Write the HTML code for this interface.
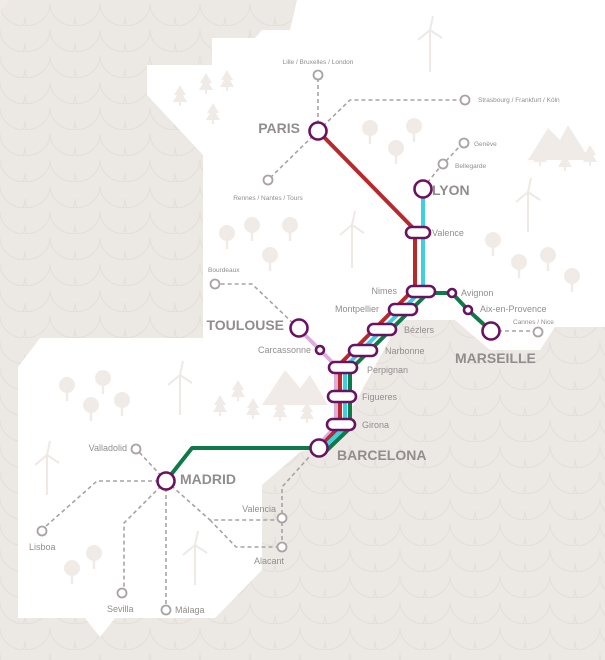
<!DOCTYPE html>
<html><head><meta charset="utf-8"><style>
html,body{margin:0;padding:0;background:#ece8e4;}
svg{display:block;font-family:"Liberation Sans",sans-serif;}
</style></head><body>
<svg width="605" height="660" viewBox="0 0 605 660" xmlns="http://www.w3.org/2000/svg">
<defs>
<pattern id="sea" width="50" height="26" patternUnits="userSpaceOnUse">
<rect width="50" height="26" fill="#ece8e4"/>
<path d="M0 4 A25 22 0 0 0 50 4" fill="none" stroke="#e3ded9" stroke-width="1"/>
<path d="M-25 17 A25 22 0 0 0 25 17 M25 17 A25 22 0 0 0 75 17" fill="none" stroke="#e3ded9" stroke-width="1"/>
</pattern>
</defs>
<rect width="605" height="660" fill="url(#sea)"/>
<polygon fill="#ffffff" points="297,0 605,0 605,327 555,327 540,350 490,350 455,320 400,320 335,440 300,452 262,485 262,570 215,618 115,618 100,637 85,618 18,618 18,367 40,338 203,338 203,155 147,95 147,65 212,65 212,38 255,38 262,30 290,30"/>

<!-- decorations -->
<g fill="#f1ebe8" stroke="none">
<g id="t"><circle cx="0" cy="0" r="8"/><rect x="-1.2" y="6" width="2.4" height="10"/></g>
<use href="#t" x="370" y="128"/><use href="#t" x="396" y="148"/><use href="#t" x="414" y="126"/>
<use href="#t" x="227" y="233"/><use href="#t" x="252" y="225"/><use href="#t" x="290" y="225"/><use href="#t" x="270" y="255"/>
<use href="#t" x="493" y="240"/><use href="#t" x="519" y="262"/><use href="#t" x="548" y="255"/><use href="#t" x="572" y="276"/>
<use href="#t" x="67" y="385"/><use href="#t" x="103" y="378"/><use href="#t" x="91" y="405"/><use href="#t" x="122" y="400"/>
<use href="#t" x="72" y="568"/><use href="#t" x="94" y="553"/>
<g id="p"><polygon points="0,-10 -6,0 -3,0 -7,7 7,7 3,0 6,0"/><rect x="-1" y="7" width="2" height="4"/></g>
<use href="#p" x="180" y="95"/><use href="#p" x="206" y="83"/><use href="#p" x="227" y="80"/><use href="#p" x="213" y="113"/>
<use href="#p" x="220" y="405"/><use href="#p" x="238" y="390"/><use href="#p" x="253" y="408"/><use href="#p" x="280" y="410"/><use href="#p" x="307" y="412"/>
<use href="#p" x="540" y="155"/><use href="#p" x="565" y="160"/><use href="#p" x="590" y="155"/>
<polygon points="262,405 285,370 300,388 310,375 328,405"/>
<polygon points="528,160 548,128 560,140 568,125 590,160"/>
</g>
<g stroke="#efe9e5" stroke-width="2" fill="none">
<path d="M430 72 V30 M430 30 l-12 10 M430 30 l3 -14 M430 30 l12 8"/>
<path d="M352 268 V225 M352 225 l-12 10 M352 225 l3 -14 M352 225 l12 8"/>
<path d="M528 232 V192 M528 192 l-12 10 M528 192 l3 -14 M528 192 l12 8"/>
<path d="M180 415 V375 M180 375 l-12 10 M180 375 l3 -14 M180 375 l12 8"/>
<path d="M47 495 V455 M47 455 l-12 10 M47 455 l3 -14 M47 455 l12 8"/>
<path d="M195 585 V545 M195 545 l-12 10 M195 545 l3 -14 M195 545 l12 8"/>
</g>

<!-- dashed secondary lines -->
<g stroke="#a9a3a3" stroke-width="1.6" stroke-dasharray="4,3" fill="none">
<path d="M318 131 V80"/>
<path d="M318 131 L350 100 H460"/>
<path d="M318 131 L271 177"/>
<path d="M423 188 L440 167 M446 161 L460 146"/>
<path d="M298 328 L252 284 H220"/>
<path d="M491 331 H533"/>
<path d="M166 481 L139 452"/>
<path d="M166 481 H97 L45 527"/>
<path d="M166 481 L124 523 V589"/>
<path d="M166 481 V606"/>
<path d="M166 481 L210 520 H278"/>
<path d="M210 520 L236 547 H278"/>
<path d="M282 522 V543"/>
<path d="M282 514 V487 L310 456"/>
</g>
<g fill="#fff" stroke="#a9a3a3" stroke-width="1.8">
<circle cx="318" cy="75" r="4.5"/><circle cx="465" cy="100" r="4.5"/><circle cx="268" cy="180" r="4.5"/>
<circle cx="464" cy="143" r="4.5"/><circle cx="443" cy="164" r="4.5"/><circle cx="215" cy="284" r="4.5"/>
<circle cx="538" cy="332" r="4.5"/><circle cx="136" cy="449" r="4.5"/><circle cx="42" cy="531" r="4.5"/>
<circle cx="122" cy="593" r="4.5"/><circle cx="166" cy="610" r="4.5"/><circle cx="282" cy="518" r="4.5"/><circle cx="282" cy="547" r="4.5"/>
</g>

<!-- main lines -->
<g fill="none" stroke-linejoin="round" stroke-width="4">
<path d="M298 328 L320 350 L336 366 V426 L316 448" stroke="#dcaede"/>
<path d="M318 131 L415 230 V288 L340 364 V426 L318 449" stroke="#b8292b"/>
<path d="M423 190 V289 L345 367 V427 L320 451" stroke="#3fcfe0"/>
<path d="M491 331 L468 310 L452 293 H428 L350 370 V428 L324 453" stroke="#10794a"/>
<path d="M317 448 H192 L166 481" stroke="#10794a"/>
</g>

<!-- stations -->
<g fill="#fff" stroke="#6a1262" stroke-width="2.6">
<rect x="406" y="227" width="24" height="11" rx="5.5"/>
<rect x="407" y="286" width="28" height="11" rx="5.5"/>
<rect x="389" y="304" width="28" height="11" rx="5.5"/>
<rect x="368" y="324" width="28" height="11" rx="5.5"/>
<rect x="349" y="345" width="28" height="11" rx="5.5"/>
<rect x="329" y="362" width="28" height="11" rx="5.5"/>
<rect x="328" y="391" width="28" height="11" rx="5.5"/>
<rect x="327" y="419" width="28" height="11" rx="5.5"/>
<circle cx="318" cy="131" r="8.5"/>
<circle cx="423" cy="189" r="8.5"/>
<circle cx="299" cy="328" r="8.5"/>
<circle cx="320" cy="350" r="4"/>
<circle cx="452" cy="293" r="4"/>
<circle cx="468" cy="310" r="4"/>
<circle cx="491" cy="331" r="8.5"/>
<circle cx="319" cy="448" r="8.5"/>
<circle cx="166" cy="481" r="8.5"/>
</g>

<!-- labels -->
<g fill="#928d8d" font-weight="bold" font-size="14">
<text x="300" y="133" text-anchor="end">PARIS</text>
<text x="432" y="195">LYON</text>
<text x="284" y="330" text-anchor="end">TOULOUSE</text>
<text x="455" y="363">MARSEILLE</text>
<text x="337" y="460">BARCELONA</text>
<text x="180" y="484">MADRID</text>
</g>
<g fill="#928d8d" font-size="9">
<text x="432" y="236">Valence</text>
<text x="397" y="294" text-anchor="end">Nimes</text>
<text x="379" y="312" text-anchor="end">Montpellier</text>
<text x="404" y="333">Bézlers</text>
<text x="385" y="354">Narbonne</text>
<text x="367" y="373">Perpignan</text>
<text x="362" y="400">Figueres</text>
<text x="362" y="428">Girona</text>
<text x="311" y="353" text-anchor="end">Carcassonne</text>
<text x="461" y="296">Avignon</text>
<text x="480" y="312">Aix-en-Provence</text>
<text x="127" y="451" text-anchor="end">Valladolid</text>
<text x="29" y="550">Lisboa</text>
<text x="107" y="612">Sevilla</text>
<text x="175" y="613">Málaga</text>
<text x="276" y="512" text-anchor="end">Valencia</text>
<text x="254" y="564">Alacant</text>
</g>
<g fill="#928d8d" font-size="6.5">
<text x="318" y="64" text-anchor="middle">Lille / Bruxelles / London</text>
<text x="478" y="102">Strasbourg / Frankfurt / Köln</text>
<text x="268" y="200" text-anchor="middle">Rennes / Nantes / Tours</text>
<text x="474" y="146">Genève</text>
<text x="455" y="168">Bellegarde</text>
<text x="208" y="272">Bourdeaux</text>
<text x="513" y="324">Cannes / Nice</text>
</g>
</svg>
</body></html>
